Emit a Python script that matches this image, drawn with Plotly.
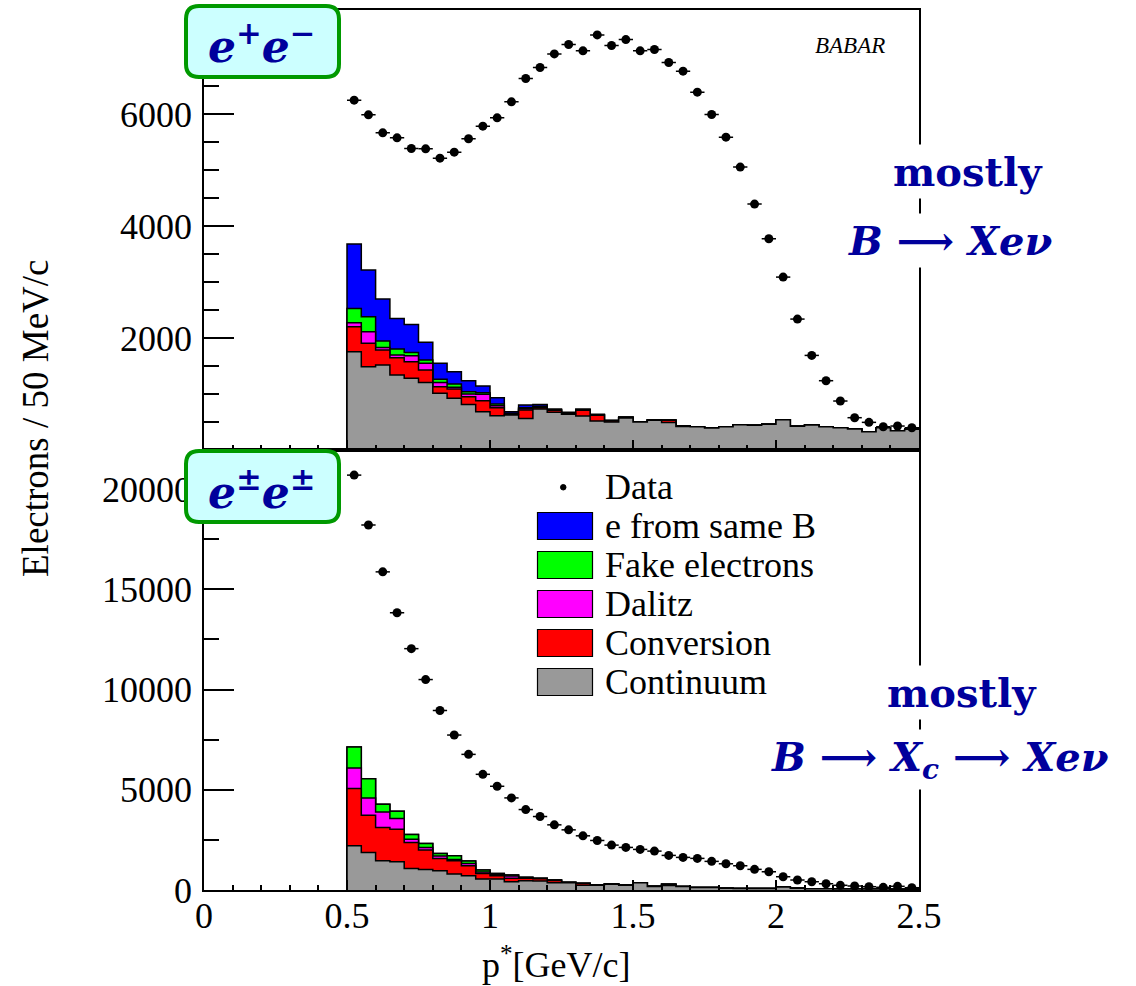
import plotly.graph_objects as go

# ---------------- data ----------------
bin_edges = [0.5 + 0.05 * i for i in range(41)]
bin_centers = [0.525 + 0.05 * i for i in range(40)]

# e+e- (top panel)
top_data = [6250, 5988, 5667, 5577, 5387, 5381, 5214, 5321, 5560, 5786,
            5935, 6220, 6637, 6833, 7077, 7245, 7131, 7416, 7226, 7333,
            7131, 7155, 6923, 6768, 6393, 5994, 5589, 5054, 4393, 3774,
            3089, 2339, 1690, 1238, 875, 577, 494, 416, 428, 398]
top_continuum = [1756, 1488, 1518, 1339, 1280, 1208, 1012, 923, 815, 685,
                 613, 625, 565, 732, 673, 637, 607, 518, 500, 570,
                 500, 530, 490, 420, 417, 393, 417, 452, 440, 458,
                 542, 423, 446, 417, 399, 375, 327, 399, 345, 369]
top_conversion = [446, 417, 268, 310, 297, 221, 119, 166, 137, 196,
                  143, 12, 149, 24, 35, 13, 101, 102, 20, 10,
                  3, 3, 40, 15, 0, 0, 0, 0, 0, 0,
                  0, 0, 0, 0, 0, 0, 0, 0, 0, 0]
top_dalitz = [72, 208, 47, 47, 108, 119, 77, 30, 48, 113,
              36, 8, 21, 9, 4, 5, 7, 5, 4, 3,
              1, 1, 2, 0, 0, 0, 0, 0, 0, 0,
              0, 0, 0, 0, 0, 0, 0, 0, 0, 0]
top_fake = [256, 268, 113, 108, 59, 59, 54, 60, 42, 30,
            29, 10, 21, 15, 8, 6, 5, 5, 3, 3,
            1, 1, 2, 0, 0, 0, 0, 0, 0, 0,
            0, 0, 0, 0, 0, 0, 0, 0, 0, 0]
top_same_b = [1149, 833, 750, 547, 500, 316, 286, 220, 196, 119,
              114, 30, 48, 35, 12, 12, 12, 7, 3, 4,
              1, 1, 2, 0, 0, 0, 0, 0, 0, 0,
              0, 0, 0, 0, 0, 0, 0, 0, 0, 0]

# e±e± (bottom panel)
bot_data = [20697, 18209, 15871, 13831, 12040, 10498, 8955, 7730, 6766, 5771,
            5174, 4594, 4013, 3665, 3250, 3001, 2703, 2471, 2239, 2124,
            2025, 1940, 1726, 1627, 1577, 1428, 1308, 1209, 1030, 910,
            662, 498, 413, 313, 234, 199, 164, 134, 184, 114]
bot_continuum = [2206, 1874, 1459, 1410, 1078, 1028, 962, 796, 713, 547,
                 547, 415, 464, 448, 365, 365, 232, 240, 282, 240,
                 360, 180, 230, 170, 130, 120, 90, 70, 70, 70,
                 150, 90, 60, 60, 50, 50, 45, 45, 40, 40]
bot_conversion = [2852, 1857, 1659, 1625, 1293, 962, 613, 663, 498, 282,
                  166, 165, 116, 112, 115, 10, 88, 5, 8, 5,
                  5, 5, 60, 0, 0, 0, 0, 0, 0, 0,
                  0, 0, 0, 0, 0, 0, 0, 0, 0, 0]
bot_dalitz = [1028, 863, 779, 530, 166, 133, 117, 67, 116, 71,
              67, 117, 20, 10, 10, 3, 6, 2, 4, 2,
              0, 0, 0, 0, 0, 0, 0, 0, 0, 0,
              0, 0, 0, 0, 0, 0, 0, 0, 0, 0]
bot_fake = [1045, 962, 382, 365, 233, 199, 132, 182, 116, 95,
            49, 49, 30, 10, 8, 3, 6, 2, 4, 2,
            0, 0, 0, 0, 0, 0, 0, 0, 0, 0,
            0, 0, 0, 0, 0, 0, 0, 0, 0, 0]
bot_same_b = [0] * 40

legend_labels = ["Data", "e from same B", "Fake electrons", "Dalitz", "Conversion", "Continuum"]
x_ticks = [0, 0.5, 1, 1.5, 2, 2.5]
x_tick_text = ["0", "0.5", "1", "1.5", "2", "2.5"]
top_y_ticks = [2000, 4000, 6000]
top_y_text = ["2000", "4000", "6000"]
bot_y_ticks = [0, 5000, 10000, 15000, 20000]
bot_y_text = ["0", "5000", "10000", "15000", "20000"]

# ---------------- style ----------------
W, H = 1136, 986
C_SAME = "#0000ff"
C_FAKE = "#00ff00"
C_DAL = "#ff00ff"
C_CONV = "#ff0000"
C_CONT = "#999999"
TXT_BLUE = "#00009c"
SERIF = "Liberation Serif, Times New Roman, Times, serif"
MATH = "DejaVu Serif, serif"
NB = "\u00a0"
ARROW = "\u27f6"


def px(x):
    return x / W


def py(y):
    return (H - y) / H


def cum(*arrs):
    return [sum(v) for v in zip(*arrs)]


fig = go.Figure()


def add_stack(comps, colors, xa, ya):
    layers = []
    for i in range(len(comps)):
        layers.append(cum(*comps[: i + 1]))
    for vals, col in reversed(list(zip(layers, colors))):
        xs = [bin_edges[0]] + bin_edges[:-1] + [bin_edges[-1]]
        ys = [0] + list(vals) + [vals[-1]]
        fig.add_trace(go.Scatter(
            x=xs, y=ys, mode="lines", xaxis=xa, yaxis=ya,
            line=dict(shape="hv", color="black", width=1.5),
            fill="tozeroy", fillcolor=col, showlegend=False, hoverinfo="skip"))


add_stack([top_continuum, top_conversion, top_dalitz, top_fake, top_same_b],
          [C_CONT, C_CONV, C_DAL, C_FAKE, C_SAME], "x", "y")
add_stack([bot_continuum, bot_conversion, bot_dalitz, bot_fake, bot_same_b],
          [C_CONT, C_CONV, C_DAL, C_FAKE, C_SAME], "x2", "y2")

for d, xa, ya in [(top_data, "x", "y"), (bot_data, "x2", "y2")]:
    fig.add_trace(go.Scatter(
        x=bin_centers, y=d, mode="markers", xaxis=xa, yaxis=ya,
        marker=dict(color="black", size=9),
        error_x=dict(type="constant", value=0.025, color="black", thickness=1.5, width=0),
        showlegend=False))

XD = [px(204), px(919)]
axis_common = dict(showline=True, mirror=True, linecolor="black", linewidth=1.5,
                   showgrid=False, zeroline=False, ticks="inside", tickcolor="black",
                   automargin=False,
                   tickfont=dict(family=SERIF, size=36, color="black"))

fig.update_layout(
    template="none",
    width=W, height=H, margin=dict(l=0, r=0, t=0, b=0, pad=0),
    paper_bgcolor="white", plot_bgcolor="white", showlegend=False,
    xaxis=dict(domain=XD, anchor="y", range=[0, 2.5], tickvals=x_ticks,
               showticklabels=False, ticklen=10, tickwidth=1.5,
               minor=dict(tickmode="linear", tick0=0, dtick=0.1, ticklen=5, ticks="inside",
                          tickcolor="black", tickwidth=1.5),
               **axis_common),
    yaxis=dict(domain=[py(450), py(9.5)], anchor="x", range=[0, 7870],
               tickvals=top_y_ticks, ticktext=top_y_text, ticklen=30, tickwidth=1.5,
               ticklabelstandoff=3,
               minor=dict(tickmode="linear", tick0=0, dtick=500, ticklen=15, ticks="inside",
                          tickcolor="black", tickwidth=1.5),
               **axis_common),
    xaxis2=dict(domain=XD, anchor="y2", range=[0, 2.5], tickvals=x_ticks, ticktext=x_tick_text,
                ticklen=10, tickwidth=1.5, ticklabelstandoff=-7,
                minor=dict(tickmode="linear", tick0=0, dtick=0.1, ticklen=5, ticks="inside",
                           tickcolor="black", tickwidth=1.5),
                **axis_common),
    yaxis2=dict(domain=[py(890), py(450)], anchor="x2", range=[0, 21950],
                tickvals=bot_y_ticks, ticktext=bot_y_text, ticklen=30, tickwidth=1.5,
                ticklabelstandoff=3,
                minor=dict(tickmode="linear", tick0=0, dtick=2500, ticklen=15, ticks="inside",
                           tickcolor="black", tickwidth=1.5),
                **axis_common),
)

shapes = []
annotations = []


def rounded_box(x0, y0, x1, y1, r):
    rx, ry = r / W, r / H
    X0, X1 = px(x0), px(x1)
    Y0, Y1 = py(y0), py(y1)
    path = (f"M {X0+rx},{Y0} L {X1-rx},{Y0} Q {X1},{Y0} {X1},{Y0-ry} "
            f"L {X1},{Y1+ry} Q {X1},{Y1} {X1-rx},{Y1} L {X0+rx},{Y1} "
            f"Q {X0},{Y1} {X0},{Y1+ry} L {X0},{Y0-ry} Q {X0},{Y0} {X0+rx},{Y0} Z")
    return dict(type="path", xref="paper", yref="paper", path=path,
                fillcolor="#ccffff", line=dict(color="#009900", width=4), layer="above")


shapes.append(rounded_box(186, 6, 339, 77, 13))
shapes.append(rounded_box(186, 451, 339, 522, 13))

annotations.append(dict(x=px(262), y=py(44), xref="paper", yref="paper",
                        text="<b><i>e<sup>+</sup>e<sup>−</sup></i></b>", showarrow=False,
                        font=dict(family=MATH, size=44, color=TXT_BLUE),
                        xanchor="center", yanchor="middle"))
annotations.append(dict(x=px(262), y=py(489), xref="paper", yref="paper",
                        text="<b><i>e<sup>±</sup>e<sup>±</sup></i></b>", showarrow=False,
                        font=dict(family=MATH, size=44, color=TXT_BLUE),
                        xanchor="center", yanchor="middle"))

# physics labels
labels_phys = [
    ("<b>mostly</b>", 968, 172),
    (f"<b><i>B{NB}{ARROW}{NB}Xeν</i></b>", 950, 240),
    ("<b>mostly</b>", 962, 692),
    (f"<b><i>B{NB}{ARROW}{NB}X<sub>c</sub>{NB}{ARROW}{NB}Xeν</i></b>", 940, 760),
]
for txt, x, y in labels_phys:
    annotations.append(dict(x=px(x), y=py(y), xref="paper", yref="paper", text=txt,
                            showarrow=False, bgcolor="white", borderpad=3,
                            font=dict(family=MATH, size=40, color=TXT_BLUE),
                            xanchor="center", yanchor="middle"))

annotations.append(dict(x=px(887), y=py(45), xref="paper", yref="paper", text="<i>BABAR</i>",
                        showarrow=False, font=dict(family=SERIF, size=23, color="black"),
                        xanchor="right", yanchor="middle"))

# axis titles
annotations.append(dict(x=px(36), y=py(418), xref="paper", yref="paper",
                        text="Electrons / 50 MeV/c", textangle=-90, showarrow=False,
                        font=dict(family=SERIF, size=37, color="black"),
                        xanchor="center", yanchor="middle"))
annotations.append(dict(x=px(556), y=py(962), xref="paper", yref="paper",
                        text="p<sup>*</sup>[GeV/c]", showarrow=False,
                        font=dict(family=SERIF, size=36, color="black"),
                        xanchor="center", yanchor="middle"))

# legend
leg_colors = [None, C_SAME, C_FAKE, C_DAL, C_CONV, C_CONT]
for i, (lab, col) in enumerate(zip(legend_labels, leg_colors)):
    yc = 487 + 39 * i
    if col is None:
        shapes.append(dict(type="circle", xref="paper", yref="paper",
                           x0=px(560.5), x1=px(566), y0=py(490), y1=py(484.5),
                           fillcolor="black", line=dict(color="black", width=1)))
    else:
        shapes.append(dict(type="rect", xref="paper", yref="paper",
                           x0=px(537.5), x1=px(592.5), y0=py(yc + 13.5), y1=py(yc - 13.5),
                           fillcolor=col, line=dict(color="black", width=1.2)))
    annotations.append(dict(x=px(603), y=py(yc), xref="paper", yref="paper", text=lab,
                            showarrow=False, font=dict(family=SERIF, size=36, color="black"),
                            xanchor="left", yanchor="middle"))

fig.update_layout(shapes=shapes, annotations=annotations)
fig.write_html("out.html")
